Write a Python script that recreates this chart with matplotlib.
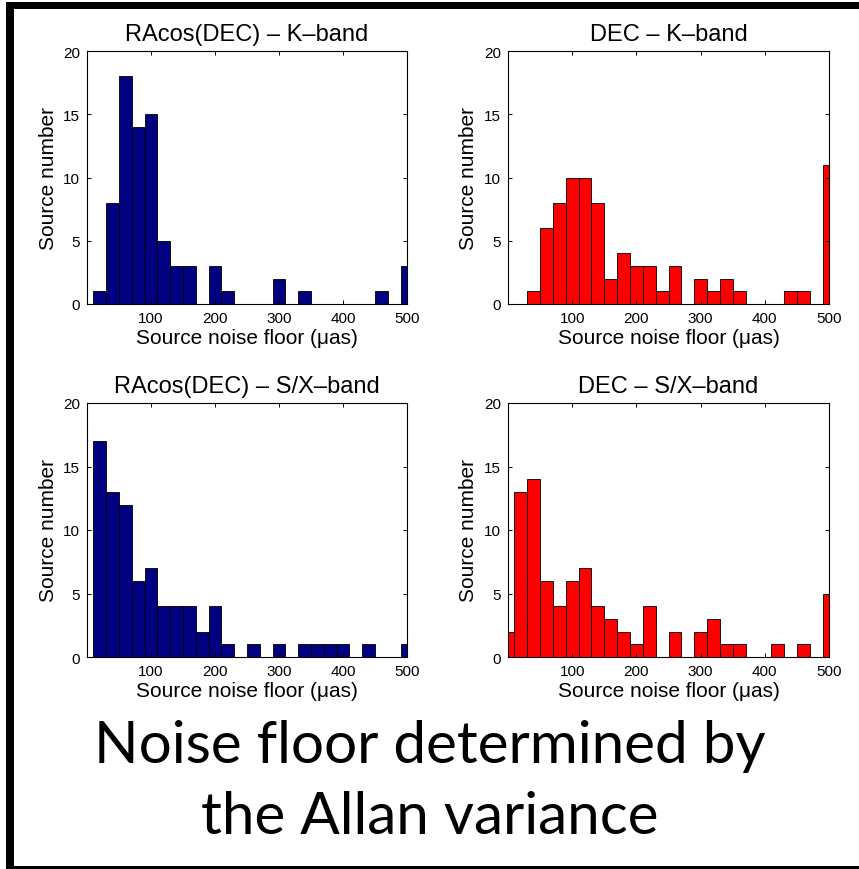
import matplotlib
matplotlib.use("Agg")
import matplotlib.pyplot as plt
from matplotlib.patches import Rectangle

# ---------------- data ----------------
bin_centers = [0, 20, 40, 60, 80, 100, 120, 140, 160, 180, 200, 220, 240,
               260, 280, 300, 320, 340, 360, 380, 400, 420, 440, 460, 480, 500]

ra_k = [0, 1, 8, 18, 14, 15, 5, 3, 3, 0, 3, 1, 0,
        0, 0, 2, 0, 1, 0, 0, 0, 0, 0, 1, 0, 3]
dec_k = [0, 0, 1, 6, 8, 10, 10, 8, 2, 4, 3, 3, 1,
         3, 0, 2, 1, 2, 1, 0, 0, 0, 1, 1, 0, 11]
ra_sx = [0, 17, 13, 12, 6, 7, 4, 4, 4, 2, 4, 1, 0,
         1, 0, 1, 0, 1, 1, 1, 1, 0, 1, 0, 0, 1]
dec_sx = [2, 13, 14, 6, 4, 6, 7, 4, 3, 2, 1, 4, 0,
          2, 0, 2, 3, 1, 1, 0, 0, 1, 0, 1, 0, 5]

titles = ["RAcos(DEC) \u2013 K\u2013band", "DEC \u2013 K\u2013band",
          "RAcos(DEC) \u2013 S/X\u2013band", "DEC \u2013 S/X\u2013band"]
series = [ra_k, dec_k, ra_sx, dec_sx]
colors = ["#000080", "#ff0000", "#000080", "#ff0000"]
xticks = [100, 200, 300, 400, 500]
yticks = [0, 5, 10, 15, 20]
xlabel = "Source noise floor (\u03bcas)"
ylabel = "Source number"
caption = "Noise floor determined by\nthe Allan variance"

# ---------------- figure ----------------
W, H = 859, 870
fig = plt.figure(figsize=(W / 100, H / 100), dpi=100)
fig.patch.set_facecolor("white")

font = ["Liberation Sans", "DejaVu Sans"]

def fbox(x0, y0, x1, y1):
    # pixel box (from top-left) to figure fraction [left, bottom, w, h]
    return [x0 / W, 1 - y1 / H, (x1 - x0) / W, (y1 - y0) / H]

boxes = [fbox(87, 52, 407, 305), fbox(508, 52, 829, 305),
         fbox(87, 404, 407, 658), fbox(508, 404, 829, 658)]

for box, data, col, ttl in zip(boxes, series, colors, titles):
    ax = fig.add_axes(box)
    ax.bar(bin_centers, data, width=20, color=col, edgecolor="black",
           linewidth=0.6, align="center")
    ax.set_xlim(0, 500)
    ax.set_ylim(0, 20)
    ax.set_xticks(xticks)
    ax.set_yticks(yticks)
    ax.tick_params(direction="in", top=True, right=True, length=3,
                   width=0.7, labelsize=11, pad=5)
    for lab in ax.get_xticklabels() + ax.get_yticklabels():
        lab.set_family(font)
    for sp in ax.spines.values():
        sp.set_linewidth(0.8)
    ax.set_title(ttl, fontsize=17, family=font, pad=8)
    ax.set_xlabel(xlabel, fontsize=15, family=font, labelpad=2)
    ax.set_ylabel(ylabel, fontsize=15, family=font, labelpad=4)

fig.text(0.5, 1 - 782 / H, caption, ha="center", va="center",
         fontsize=42, family=["Lato", "DejaVu Sans"], linespacing=1.42)

# slide-style black frame (left, top, bottom)
fig.add_artist(Rectangle((6 / W, 0), 8 / W, 1 - 3 / H, transform=fig.transFigure,
                         facecolor="black", edgecolor="none"))
fig.add_artist(Rectangle((6 / W, 1 - 10 / H), 1 - 6 / W, 7 / H,
                         transform=fig.transFigure, facecolor="black",
                         edgecolor="none"))
fig.add_artist(Rectangle((6 / W, 0), 1 - 6 / W, 3 / H, transform=fig.transFigure,
                         facecolor="black", edgecolor="none"))

fig.savefig("out.png", dpi=100)
